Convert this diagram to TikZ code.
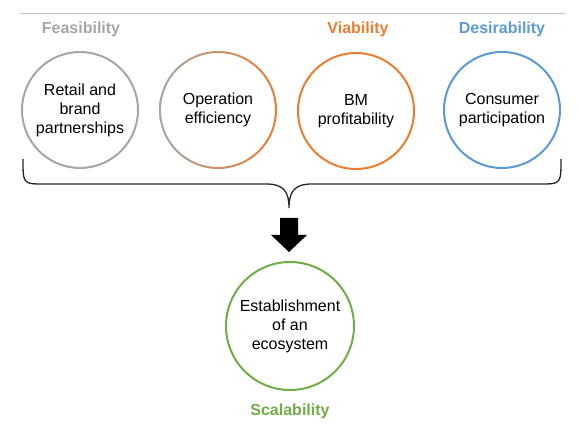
\documentclass[tikz,border=0pt]{standalone}
\usepackage{fontspec}
\setmainfont{Liberation Sans}
\usepackage{tikz}
\usepackage{xcolor}
\definecolor{feasgray}{RGB}{166,166,166}
\definecolor{viaorange}{RGB}{237,125,49}
\definecolor{desblue}{RGB}{91,155,213}
\definecolor{scalgreen}{RGB}{112,173,71}
\definecolor{rulegray}{RGB}{191,191,191}
\definecolor{bracegray}{RGB}{38,38,38}

\begin{document}
\begin{tikzpicture}[x=1pt, y=-1pt,
    bm/.style={circle, draw=#1, line width=2pt, minimum size=116pt, inner sep=0pt,
        align=center, font=\fontsize{16}{19}\selectfont},
    pillar/.style={text=#1, font=\fontsize{16}{19}\selectfont\bfseries}]
    \useasboundingbox (0,0) rectangle (579,430);

    % Top rule
    \draw[rulegray, line width=1pt] (20,13.5) -- (565,13.5);

    % Pillar titles
    \node[pillar=feasgray] (feas) at (81,29) {Feasibility};
    \node[pillar=viaorange] (via) at (358,29) {Viability};
    \node[pillar=desblue] (des) at (502,29) {Desirability};

    % Business model circles
    \node[bm=feasgray] (retail) at (80,110) {Retail and\\brand\\partnerships};
    \node[bm=none] (oper) at (218,110) {Operation\\efficiency};
    \shade[left color=feasgray, right color=viaorange, even odd rule]
        (oper.center) circle (59pt) circle (57pt);
    \node[bm=viaorange] (profit) at (356,111) {BM\\profitability};
    \node[bm=desblue] (consumer) at (502,110) {Consumer\\participation};

    % Brace
    \coordinate (bl) at (23,159);
    \coordinate (br) at (561,159);
    \coordinate (tip) at (289,208);
    \draw[bracegray, line width=1.3pt]
        (bl) .. controls (23,184) and (23,184) .. (44,184) -- (266,184)
        .. controls (284,184) and (289,192) .. (tip)
        .. controls (289,192) and (294,184) .. (312,184) -- (540,184)
        .. controls (561,184) and (561,184) .. (br);

    % Block arrow
    \fill[black] (280,218) -- (298,218) -- (298,235) -- (307,235) -- (289,252)
        -- (271,235) -- (280,235) -- cycle;

    % Ecosystem
    \node[bm=scalgreen, minimum size=128pt] (eco) at (290,326)
        {Establishment\\of an\\ecosystem};
    \node[pillar=scalgreen] (scal) at (290,411) {Scalability};
\end{tikzpicture}
\end{document}
